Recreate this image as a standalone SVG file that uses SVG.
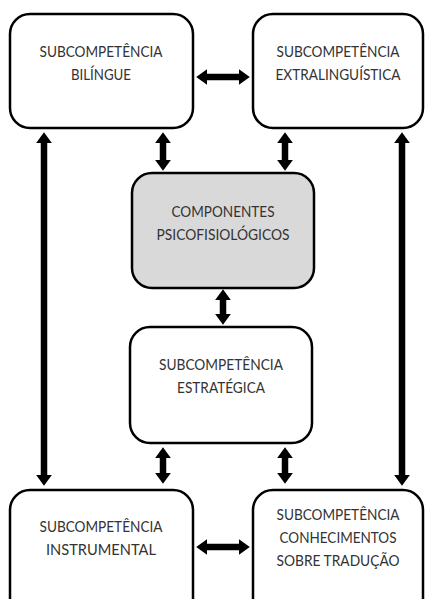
<svg xmlns="http://www.w3.org/2000/svg" width="426" height="599" viewBox="0 0 426 599">
<style>
.box{fill:#fff;stroke:#000;stroke-width:2.5}
.grey{fill:#d9d9d9}
.t{font-family:Lato,"Open Sans","Liberation Sans",sans-serif;font-size:15.5px;fill:#333;text-anchor:middle}
.a{stroke:#000;stroke-width:6.5;fill:none;marker-start:url(#h);marker-end:url(#h)}
</style>
<defs>
<marker id="h" viewBox="0 0 10 10" refX="2" refY="5" markerWidth="11" markerHeight="16" markerUnits="userSpaceOnUse" orient="auto-start-reverse" preserveAspectRatio="none">
<path d="M0,0 L10,5 L0,10 z" fill="#000"/>
</marker>
</defs>
<rect width="426" height="599" fill="#fff"/>
<g id="connectors">
<line class="a" x1="205" y1="77" x2="241" y2="77"/>
<line class="a" x1="205" y1="547" x2="241" y2="547"/>
<line class="a" x1="44" y1="141" x2="44" y2="477"/>
<line class="a" x1="402" y1="141" x2="402" y2="477"/>
<line class="a" x1="163" y1="141" x2="163" y2="162"/>
<line class="a" x1="285" y1="141" x2="285" y2="162"/>
<line class="a" x1="223" y1="298" x2="223" y2="316"/>
<line class="a" x1="163" y1="456" x2="163" y2="475"/>
<line class="a" x1="285" y1="456" x2="285" y2="475"/>
</g>
<g id="bilingue">
<rect class="box" x="10" y="14" width="183" height="114" rx="20"/>
<text class="t" x="101" y="57" textLength="123" lengthAdjust="spacingAndGlyphs">SUBCOMPETÊNCIA</text>
<text class="t" x="101" y="80" textLength="60" lengthAdjust="spacingAndGlyphs">BILÍNGUE</text>
</g>
<g id="extralinguistica">
<rect class="box" x="253" y="14" width="170" height="114" rx="20"/>
<text class="t" x="338" y="57" textLength="123" lengthAdjust="spacingAndGlyphs">SUBCOMPETÊNCIA</text>
<text class="t" x="338" y="80" textLength="125" lengthAdjust="spacingAndGlyphs">EXTRALINGUÍSTICA</text>
</g>
<g id="psicofisiologicos">
<rect class="box grey" x="132" y="173" width="182" height="115" rx="20"/>
<text class="t" x="223" y="217" textLength="103" lengthAdjust="spacingAndGlyphs">COMPONENTES</text>
<text class="t" x="223" y="240" textLength="133" lengthAdjust="spacingAndGlyphs">PSICOFISIOLÓGICOS</text>
</g>
<g id="estrategica">
<rect class="box" x="130" y="327" width="182" height="116" rx="20"/>
<text class="t" x="221" y="370" textLength="124" lengthAdjust="spacingAndGlyphs">SUBCOMPETÊNCIA</text>
<text class="t" x="221" y="393" textLength="88" lengthAdjust="spacingAndGlyphs">ESTRATÉGICA</text>
</g>
<g id="instrumental">
<rect class="box" x="10" y="490" width="183" height="130" rx="20"/>
<text class="t" x="101" y="532" textLength="123" lengthAdjust="spacingAndGlyphs">SUBCOMPETÊNCIA</text>
<text class="t" x="101" y="555" textLength="110" lengthAdjust="spacingAndGlyphs">INSTRUMENTAL</text>
</g>
<g id="conhecimentos">
<rect class="box" x="253" y="490" width="170" height="130" rx="20"/>
<text class="t" x="338" y="520" textLength="123" lengthAdjust="spacingAndGlyphs">SUBCOMPETÊNCIA</text>
<text class="t" x="338" y="543" textLength="117" lengthAdjust="spacingAndGlyphs">CONHECIMENTOS</text>
<text class="t" x="338" y="566" textLength="123" lengthAdjust="spacingAndGlyphs">SOBRE TRADUÇÃO</text>
</g>
</svg>
